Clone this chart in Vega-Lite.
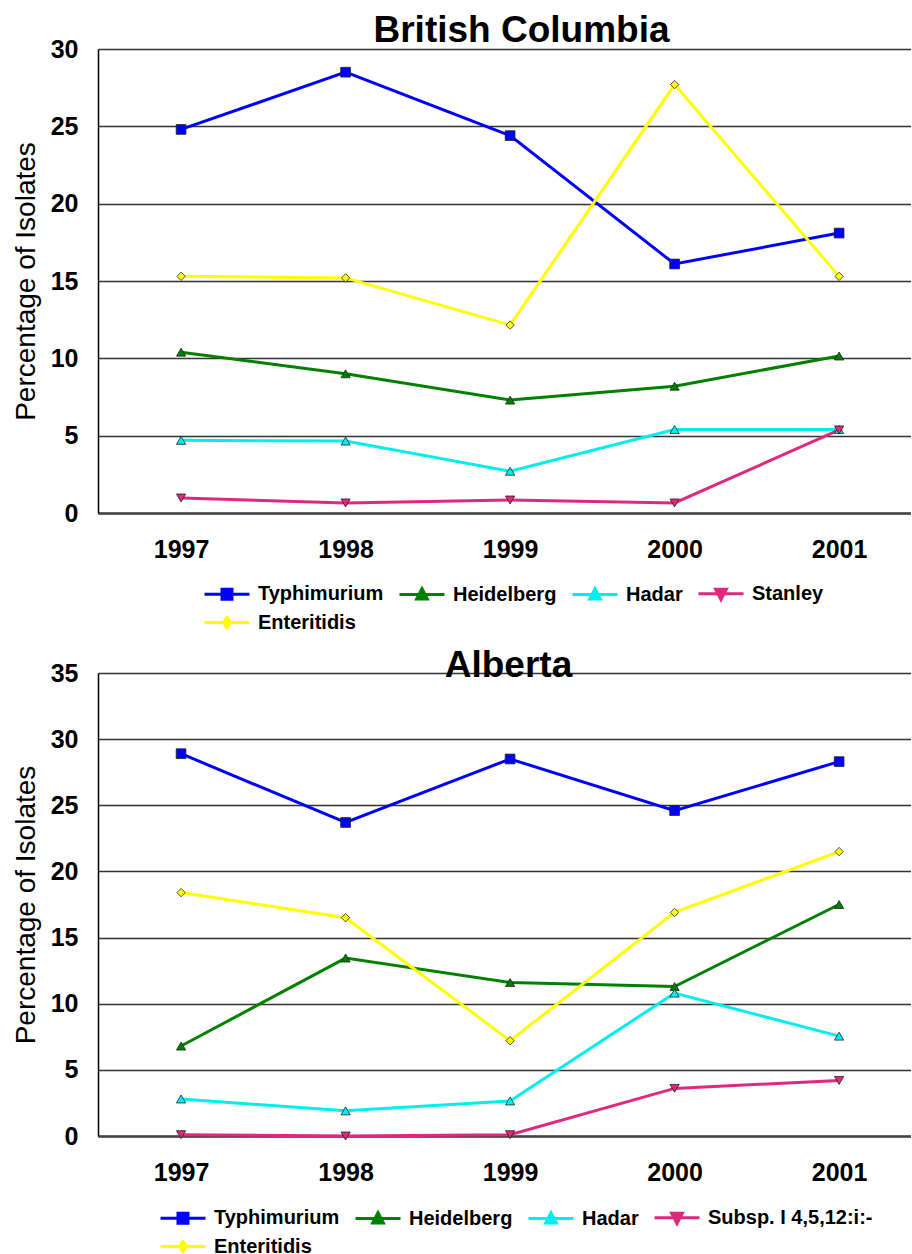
{
  "$schema": "https://vega.github.io/schema/vega-lite/v6.json",
  "padding": {"left": 12, "top": 12, "right": 0, "bottom": 0},
  "background": "white",
  "config": {
    "font": "Liberation Sans",
    "view": {"stroke": null},
    "axis": {"labelColor": "black", "titleColor": "black", "labelFont": "Liberation Sans", "titleFont": "Liberation Sans"},
    "title": {"font": "Liberation Sans", "fontSize": 37, "fontWeight": "bold", "color": "black"}
  },
  "datasets": {
    "bc": [
      {"year": 1997, "serovar": "Typhimurium", "pct": 24.8},
      {"year": 1998, "serovar": "Typhimurium", "pct": 28.5},
      {"year": 1999, "serovar": "Typhimurium", "pct": 24.4},
      {"year": 2000, "serovar": "Typhimurium", "pct": 16.1},
      {"year": 2001, "serovar": "Typhimurium", "pct": 18.1},
      {"year": 1997, "serovar": "Heidelberg", "pct": 10.4},
      {"year": 1998, "serovar": "Heidelberg", "pct": 9.0},
      {"year": 1999, "serovar": "Heidelberg", "pct": 7.3},
      {"year": 2000, "serovar": "Heidelberg", "pct": 8.2},
      {"year": 2001, "serovar": "Heidelberg", "pct": 10.15},
      {"year": 1997, "serovar": "Hadar", "pct": 4.7},
      {"year": 1998, "serovar": "Hadar", "pct": 4.65},
      {"year": 1999, "serovar": "Hadar", "pct": 2.7},
      {"year": 2000, "serovar": "Hadar", "pct": 5.4},
      {"year": 2001, "serovar": "Hadar", "pct": 5.4},
      {"year": 1997, "serovar": "Stanley", "pct": 0.97},
      {"year": 1998, "serovar": "Stanley", "pct": 0.65},
      {"year": 1999, "serovar": "Stanley", "pct": 0.84},
      {"year": 2000, "serovar": "Stanley", "pct": 0.65},
      {"year": 2001, "serovar": "Stanley", "pct": 5.37},
      {"year": 1997, "serovar": "Enteritidis", "pct": 15.3},
      {"year": 1998, "serovar": "Enteritidis", "pct": 15.2},
      {"year": 1999, "serovar": "Enteritidis", "pct": 12.15},
      {"year": 2000, "serovar": "Enteritidis", "pct": 27.7},
      {"year": 2001, "serovar": "Enteritidis", "pct": 15.3}
    ],
    "ab": [
      {"year": 1997, "serovar": "Typhimurium", "pct": 28.9},
      {"year": 1998, "serovar": "Typhimurium", "pct": 23.7},
      {"year": 1999, "serovar": "Typhimurium", "pct": 28.5},
      {"year": 2000, "serovar": "Typhimurium", "pct": 24.6},
      {"year": 2001, "serovar": "Typhimurium", "pct": 28.3},
      {"year": 1997, "serovar": "Heidelberg", "pct": 6.8},
      {"year": 1998, "serovar": "Heidelberg", "pct": 13.45},
      {"year": 1999, "serovar": "Heidelberg", "pct": 11.6},
      {"year": 2000, "serovar": "Heidelberg", "pct": 11.3},
      {"year": 2001, "serovar": "Heidelberg", "pct": 17.5},
      {"year": 1997, "serovar": "Hadar", "pct": 2.8},
      {"year": 1998, "serovar": "Hadar", "pct": 1.9},
      {"year": 1999, "serovar": "Hadar", "pct": 2.65},
      {"year": 2000, "serovar": "Hadar", "pct": 10.8},
      {"year": 2001, "serovar": "Hadar", "pct": 7.55},
      {"year": 1997, "serovar": "Subsp. I 4,5,12:i:-", "pct": 0.1},
      {"year": 1998, "serovar": "Subsp. I 4,5,12:i:-", "pct": 0.0},
      {"year": 1999, "serovar": "Subsp. I 4,5,12:i:-", "pct": 0.1},
      {"year": 2000, "serovar": "Subsp. I 4,5,12:i:-", "pct": 3.6},
      {"year": 2001, "serovar": "Subsp. I 4,5,12:i:-", "pct": 4.2},
      {"year": 1997, "serovar": "Enteritidis", "pct": 18.4},
      {"year": 1998, "serovar": "Enteritidis", "pct": 16.5},
      {"year": 1999, "serovar": "Enteritidis", "pct": 7.2},
      {"year": 2000, "serovar": "Enteritidis", "pct": 16.9},
      {"year": 2001, "serovar": "Enteritidis", "pct": 21.5}
    ]
  },
  "spacing": 13,
  "resolve": {
    "scale": {"x": "independent", "y": "independent", "color": "independent", "shape": "independent", "stroke": "independent"},
    "legend": {"color": "independent", "shape": "independent", "stroke": "independent"}
  },
  "vconcat": [
    {
      "data": {"name": "bc"},
      "width": 813,
      "height": 464,
      "title": {"text": "British Columbia", "offset": -13, "dx": 17},
      "encoding": {
        "x": {"field": "year", "type": "quantitative",
          "scale": {"domain": [1996.495, 2001.437], "nice": false, "zero": false},
          "axis": {"values": [1997, 1998, 1999, 2000, 2001], "format": "d", "grid": false, "ticks": false, "title": null,
            "labelFontSize": 25, "labelFontWeight": "bold", "labelPadding": 24, "domainColor": "#444", "domainWidth": 2.5}},
        "y": {"field": "pct", "type": "quantitative",
          "scale": {"domain": [0, 30], "nice": false},
          "axis": {"values": [0, 5, 10, 15, 20, 25, 30], "grid": true, "gridColor": "#333", "gridWidth": 1.3, "ticks": false,
            "labelFontSize": 25, "labelFontWeight": "bold", "labelPadding": 20, "domainColor": "black", "domainWidth": 1.5,
            "title": "Percentage of Isolates", "titleFontSize": 28, "titleFontWeight": "normal", "titlePadding": 10}},
        "color": {"field": "serovar", "type": "nominal",
          "scale": {"domain": ["Typhimurium", "Heidelberg", "Hadar", "Stanley", "Enteritidis"],
                    "range": ["#0000FF", "#008000", "#00EEEE", "#E0287E", "#FFFF00"]}}
      },
      "layer": [
        {"mark": {"type": "line", "strokeWidth": 3}},
        {"transform": [{"filter": {"field": "serovar", "equal": "Typhimurium"}}],
         "mark": {"type": "point", "shape": "square", "filled": true, "opacity": 1, "stroke": "#222", "strokeWidth": 0.8, "size": 95}},
        {"transform": [{"filter": {"field": "serovar", "oneOf": ["Heidelberg", "Hadar"]}}],
         "mark": {"type": "point", "shape": "triangle-up", "filled": true, "opacity": 1, "stroke": "#222", "strokeWidth": 0.8, "size": 85}},
        {"transform": [{"filter": {"field": "serovar", "equal": "Stanley"}}],
         "mark": {"type": "point", "shape": "triangle-down", "filled": true, "opacity": 1, "stroke": "#222", "strokeWidth": 0.8, "size": 85}},
        {"transform": [{"filter": {"field": "serovar", "equal": "Enteritidis"}}],
         "mark": {"type": "point", "shape": "diamond", "filled": true, "opacity": 1, "stroke": "#222", "strokeWidth": 0.8, "size": 70}},
        {"transform": [{"filter": {"field": "pct", "lt": -100}}],
         "mark": {"type": "point", "filled": true, "opacity": 1, "size": 900, "strokeWidth": 3},
         "encoding": {
           "stroke": {"field": "serovar", "type": "nominal",
             "scale": {"domain": ["Typhimurium", "Heidelberg", "Hadar", "Stanley", "Enteritidis"],
                       "range": ["#0000FF", "#008000", "#00EEEE", "#E0287E", "#FFFF00"]}},
           "shape": {"field": "serovar", "type": "nominal",
             "scale": {"domain": ["Typhimurium", "Heidelberg", "Hadar", "Stanley", "Enteritidis"],
                       "range": ["M-1,0H2M0.167,-0.333H0.833V0.333H0.167Z", "M-1,0H2M0.5,-0.39L0.86,0.3H0.14Z", "M-1,0H2M0.5,-0.39L0.86,0.3H0.14Z", "M-1,0H2M0.5,0.39L0.86,-0.3H0.14Z", "M-1,0H2M0.5,-0.333L0.75,0L0.5,0.333L0.25,0Z"]},
             "legend": {"title": null, "orient": "none", "direction": "horizontal", "legendX": 105, "legendY": 528, "columns": 4, "columnPadding": 9, "rowPadding": -1,
               "labelFontSize": 20, "labelFontWeight": "bold", "labelColor": "black", "labelOffset": 22, "labelLimit": 0, "symbolSize": 900, "symbolStrokeWidth": 3}}
         }}
      ]
    },
    {
      "data": {"name": "ab"},
      "width": 813,
      "height": 463,
      "title": {"text": "Alberta", "offset": -24, "dx": 4},
      "encoding": {
        "x": {"field": "year", "type": "quantitative",
          "scale": {"domain": [1996.495, 2001.437], "nice": false, "zero": false},
          "axis": {"values": [1997, 1998, 1999, 2000, 2001], "format": "d", "grid": false, "ticks": false, "title": null,
            "labelFontSize": 25, "labelFontWeight": "bold", "labelPadding": 24, "domainColor": "#444", "domainWidth": 2.5}},
        "y": {"field": "pct", "type": "quantitative",
          "scale": {"domain": [0, 35], "nice": false},
          "axis": {"values": [0, 5, 10, 15, 20, 25, 30, 35], "grid": true, "gridColor": "#333", "gridWidth": 1.3, "ticks": false,
            "labelFontSize": 25, "labelFontWeight": "bold", "labelPadding": 20, "domainColor": "black", "domainWidth": 1.5,
            "title": "Percentage of Isolates", "titleFontSize": 28, "titleFontWeight": "normal", "titlePadding": 10}},
        "color": {"field": "serovar", "type": "nominal",
          "scale": {"domain": ["Typhimurium", "Heidelberg", "Hadar", "Subsp. I 4,5,12:i:-", "Enteritidis"],
                    "range": ["#0000FF", "#008000", "#00EEEE", "#E0287E", "#FFFF00"]}}
      },
      "layer": [
        {"mark": {"type": "line", "strokeWidth": 3}},
        {"transform": [{"filter": {"field": "serovar", "equal": "Typhimurium"}}],
         "mark": {"type": "point", "shape": "square", "filled": true, "opacity": 1, "stroke": "#222", "strokeWidth": 0.8, "size": 95}},
        {"transform": [{"filter": {"field": "serovar", "oneOf": ["Heidelberg", "Hadar"]}}],
         "mark": {"type": "point", "shape": "triangle-up", "filled": true, "opacity": 1, "stroke": "#222", "strokeWidth": 0.8, "size": 85}},
        {"transform": [{"filter": {"field": "serovar", "equal": "Subsp. I 4,5,12:i:-"}}],
         "mark": {"type": "point", "shape": "triangle-down", "filled": true, "opacity": 1, "stroke": "#222", "strokeWidth": 0.8, "size": 85}},
        {"transform": [{"filter": {"field": "serovar", "equal": "Enteritidis"}}],
         "mark": {"type": "point", "shape": "diamond", "filled": true, "opacity": 1, "stroke": "#222", "strokeWidth": 0.8, "size": 70}},
        {"transform": [{"filter": {"field": "pct", "lt": -100}}],
         "mark": {"type": "point", "filled": true, "opacity": 1, "size": 900, "strokeWidth": 3},
         "encoding": {
           "stroke": {"field": "serovar", "type": "nominal",
             "scale": {"domain": ["Typhimurium", "Heidelberg", "Hadar", "Subsp. I 4,5,12:i:-", "Enteritidis"],
                       "range": ["#0000FF", "#008000", "#00EEEE", "#E0287E", "#FFFF00"]}},
           "shape": {"field": "serovar", "type": "nominal",
             "scale": {"domain": ["Typhimurium", "Heidelberg", "Hadar", "Subsp. I 4,5,12:i:-", "Enteritidis"],
                       "range": ["M-1,0H2M0.167,-0.333H0.833V0.333H0.167Z", "M-1,0H2M0.5,-0.39L0.86,0.3H0.14Z", "M-1,0H2M0.5,-0.39L0.86,0.3H0.14Z", "M-1,0H2M0.5,0.39L0.86,-0.3H0.14Z", "M-1,0H2M0.5,-0.333L0.75,0L0.5,0.333L0.25,0Z"]},
             "legend": {"title": null, "orient": "none", "direction": "horizontal", "legendX": 61, "legendY": 528, "columns": 4, "columnPadding": 9, "rowPadding": -1,
               "labelFontSize": 20, "labelFontWeight": "bold", "labelColor": "black", "labelOffset": 22, "labelLimit": 0, "symbolSize": 900, "symbolStrokeWidth": 3}}
         }}
      ]
    }
  ]
}
